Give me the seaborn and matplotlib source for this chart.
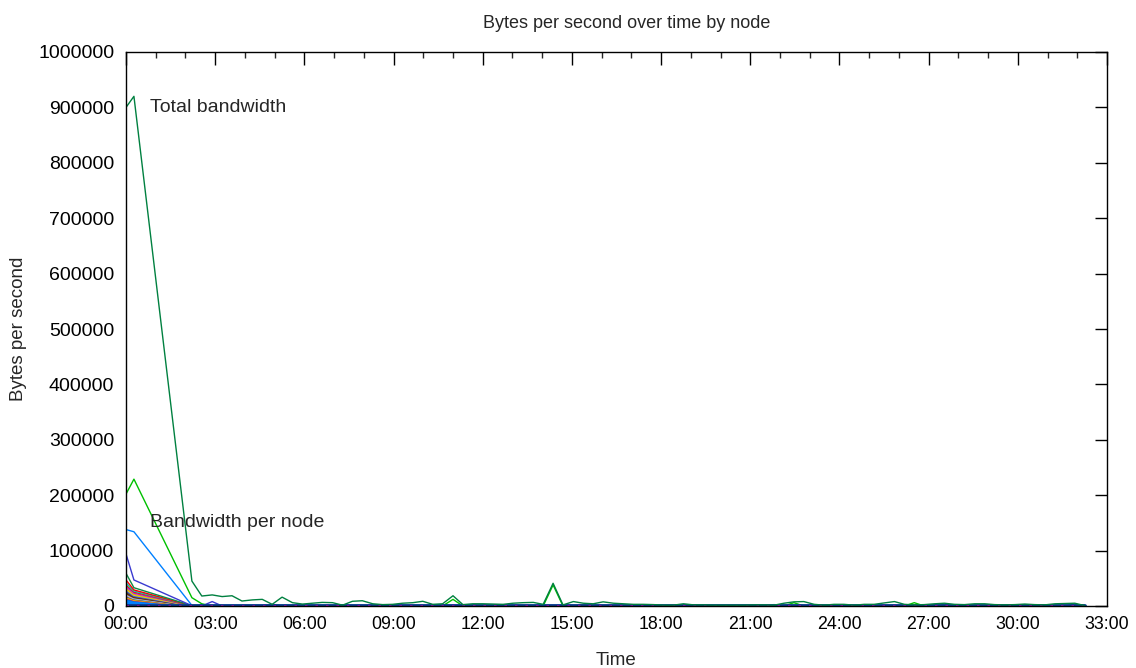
import numpy as np
import pandas as pd
import matplotlib
matplotlib.use("Agg")
import matplotlib.pyplot as plt
from matplotlib.ticker import MultipleLocator, FuncFormatter
import seaborn as sns

# ---------------- data ----------------
# sample times in seconds
times_s = [0, 16, 133, 153, 174, 194, 214, 234, 255, 275, 295, 315, 336, 356, 376, 396,
           417, 437, 457, 477, 498, 518, 538, 558, 579, 599, 619, 639, 660, 680, 700, 720,
           741, 761, 781, 801, 822, 842, 862, 882, 903, 923, 943, 963, 984, 1004, 1024, 1044,
           1065, 1085, 1105, 1125, 1146, 1166, 1186, 1206, 1227, 1247, 1267, 1287, 1308, 1328,
           1348, 1368, 1389, 1409, 1429, 1449, 1470, 1490, 1510, 1530, 1551, 1571, 1591, 1611,
           1632, 1652, 1672, 1692, 1713, 1733, 1753, 1773, 1794, 1814, 1834, 1854, 1875, 1895,
           1915, 1935]

total_bps = [900000, 920000, 45000, 18000, 20000, 17000, 18500, 9000, 11000, 12000, 3000,
             16000, 6000, 3500, 5000, 6500, 6000, 1500, 8500, 9500, 4000, 2500, 3000, 5000,
             6000, 8500, 3000, 4000, 18500, 2500, 4000, 4000, 3500, 3000, 5000, 6000, 6500,
             3000, 41000, 2000, 8000, 5000, 4000, 7500, 5000, 4000, 3000, 3000, 2500, 1500,
             1500, 4000, 2000, 2000, 1500, 1500, 1500, 1500, 2000, 2000, 1500, 5000, 7500,
             8000, 3000, 1500, 3000, 3000, 1500, 3000, 3000, 5500, 8000, 3000, 2000, 2500,
             4000, 5000, 3000, 2500, 4000, 4000, 2500, 2000, 2500, 3500, 2500, 2000, 4000,
             4500, 5000, 800]

# per-node series: value at t=0, t=16 s, t=133 s (then ~0)
node_colors = ["#00c000", "#0080ff", "#3a3ad0", "#108a48", "#ff0000", "#00c8c8", "#c04000",
               "#c000ff", "#c8c800", "#ffc020", "#4169e1", "#306080", "#8b0000", "#408000",
               "#ff80ff", "#40e0d0", "#a52a2a", "#e0e000", "#ff4040", "#1060c0",
               "#0080ff", "#0080ff", "#0080ff", "#0080ff", "#0080ff", "#0080ff", "#0080ff",
               "#0080ff", "#0080ff", "#0080ff", "#0080ff", "#0080ff", "#0080ff", "#0080ff",
               "#0080ff", "#0080ff"]
node_v0 = [202000, 138000, 94000, 59000, 47000, 42000, 38000, 35000, 32000, 30000, 28000,
           26000, 24000, 22000, 20000, 18500, 17000, 15500, 14000, 12500,
           11000, 10200, 9400, 8600, 7800, 7000, 6300, 5600, 4900, 4200, 3500, 2800, 2100,
           1400, 800, 300]
node_v1 = [229000, 134000, 47000, 33000, 29000, 27000, 25000, 23000, 21000, 19500, 18000,
           17000, 16000, 15000, 14000, 13000, 12000, 11000, 10000, 9200,
           8500, 8000, 7500, 7000, 6500, 6000, 5500, 5000, 4500, 4000, 3500, 3000, 2500,
           1800, 1000, 400]
node_v2 = [15000, 1000, 500, 500, 400, 400, 300, 300, 300, 300, 200, 200, 200, 200, 200,
           200, 100, 100, 100, 100,
           100, 100, 100, 100, 100, 100, 100, 100, 100, 100, 100, 100, 100, 100, 100, 100]

# occasional bursts of single nodes after the start
burst_node = [0, 0, 0, 0, 0, 0, 0, 0, 0, 2, 7, 14, 8, 3]
burst_time = [153, 660, 862, 1308, 1348, 1591, 1652, 1915, 295, 174, 295, 619, 923, 1632]
burst_bps = [4000, 12000, 38000, 2500, 6000, 6000, 3000, 3500, 2500, 8000, 3000, 2000, 2500, 2500]

# ---------------- build long table ----------------
rows = []
for i, col in enumerate(node_colors):
    pts = {0: node_v0[i], 16: node_v1[i], 133: node_v2[i], 153: 0, 1935: 0}
    for n, t, v in zip(burst_node, burst_time, burst_bps):
        if n == i:
            k = times_s.index(t)
            pts.setdefault(times_s[k - 1], 0)
            pts.setdefault(times_s[k + 1], 0)
            pts[t] = v
    for t in sorted(pts):
        rows.append({"node": f"n{i:02d}", "t": t, "bps": pts[t]})
nodes = pd.DataFrame(rows)
total = pd.DataFrame({"t": times_s, "bps": total_bps})

# ---------------- plot ----------------
sns.set_theme(style="white")
plt.rcParams["font.family"] = ["Liberation Sans", "DejaVu Sans"]

fig = plt.figure(figsize=(11.36, 6.68), dpi=100)
ax = fig.add_axes([126 / 1136, 62 / 668, (1107 - 126) / 1136, (606 - 52) / 668])

palette = {f"n{i:02d}": c for i, c in enumerate(node_colors)}
order = [f"n{i:02d}" for i in range(len(node_colors))][::-1]
sns.lineplot(data=nodes, x="t", y="bps", hue="node", hue_order=order, palette=palette,
             estimator=None, sort=False, legend=False, linewidth=1.0, ax=ax)

# lines lying on zero across the whole run
zero_line = pd.DataFrame({"t": [times_s[0], times_s[-1]], "bps": [0, 0]})
sns.lineplot(data=zero_line, x="t", y="bps", color="#0b3d8f", linewidth=2.8,
             estimator=None, ax=ax)
sns.lineplot(data=zero_line, x="t", y="bps", color="#c000c0", linewidth=1.8,
             estimator=None, ax=ax, linestyle=(0, (1, 3.2)))

sns.lineplot(data=total, x="t", y="bps", color="#008040", linewidth=1.0,
             estimator=None, sort=False, ax=ax)

ax.set_xlim(0, 1980)
ax.set_ylim(0, 1000000)
ax.xaxis.set_major_locator(MultipleLocator(180))
ax.xaxis.set_minor_locator(MultipleLocator(60))
ax.yaxis.set_major_locator(MultipleLocator(100000))
ax.xaxis.set_major_formatter(FuncFormatter(lambda v, p: f"{int(round(v)) // 60:02d}:00"))
ax.yaxis.set_major_formatter(FuncFormatter(lambda v, p: f"{int(round(v))}"))
ax.tick_params(which="major", direction="in", length=9, width=1, top=True, right=True,
               colors="black", pad=7)
ax.tick_params(axis="x", which="major", labelsize=12.8)
ax.tick_params(axis="y", which="major", labelsize=14, pad=8.5)
ax.tick_params(which="minor", direction="in", length=4.5, width=1, top=True, right=True)
for s in ax.spines.values():
    s.set_color("black")
    s.set_linewidth(1.0)

ax.set_xlabel("Time", fontsize=13.5, labelpad=14)
ax.set_ylabel("Bytes per second", fontsize=13.5, labelpad=8)
ax.set_title("Bytes per second over time by node", fontsize=13, pad=17, x=0.51)

ax.text(48, 900000, "Total bandwidth", fontsize=14, va="center", ha="left")
ax.text(48, 150000, "Bandwidth per node", fontsize=14, va="center", ha="left")

fig.savefig("out.png", dpi=100)
